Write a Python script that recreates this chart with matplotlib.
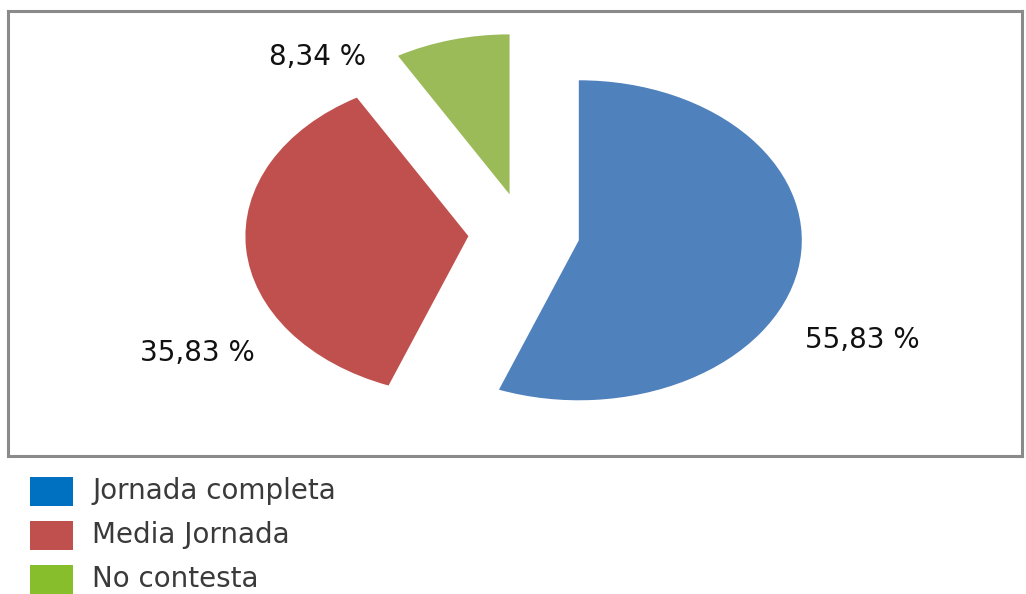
import matplotlib.pyplot as plt
from matplotlib.patches import Rectangle

plt.rcParams['font.family'] = ['DejaVu Sans']

categories = ['Jornada completa', 'Media Jornada', 'No contesta']
values = [55.83, 35.83, 8.34]
pie_colors = ['#4F81BD', '#C0504D', '#9BBB59']
legend_colors = ['#0070C0', '#C0504D', '#86BF2B']

W, H = 1026, 594
fig = plt.figure(figsize=(W / 100, H / 100), dpi=100)

# frame box in pixels
left, right, top, bottom = 8, 1022, 11, 456
ax = fig.add_axes([left / W, 1 - bottom / H, (right - left) / W, (bottom - top) / H])

ax.pie(values,
       colors=pie_colors,
       startangle=90,
       counterclock=False,
       explode=[0.25] * len(values),
       frame=True,
       wedgeprops=dict(linewidth=0))

# stretched pie: centre at (524, 233) px, radii 223 x 160 px
cx, cy, rx, ry = 524, 233, 223, 160
ax.set_aspect('auto')
ax.set_xlim((left - cx) / rx, (right - cx) / rx)
ax.set_ylim(-(bottom - cy) / ry, (cy - top) / ry)
ax.set_xticks([])
ax.set_yticks([])
for s in ax.spines.values():
    s.set_color('#8a8a8a')
    s.set_linewidth(2.2)

# percentage labels
label_pos = [(1.516, -0.669), (-1.466, -0.75), (-0.928, 1.10)]
for v, (x, y) in zip(values, label_pos):
    ax.text(x, y, ('%.2f %%' % v).replace('.', ','),
            ha='center', va='center', fontsize=20, color='#111111')

# legend below the frame
for i, (name, col) in enumerate(zip(categories, legend_colors)):
    yc = 491 + i * 44
    fig.add_artist(Rectangle((30 / W, 1 - (yc + 14.5) / H), 43 / W, 29 / H,
                             transform=fig.transFigure, color=col, lw=0))
    fig.text(92 / W, 1 - yc / H, name, ha='left', va='center',
             fontsize=20, color='#3a3a3a')

plt.savefig('out.png', dpi=100)
